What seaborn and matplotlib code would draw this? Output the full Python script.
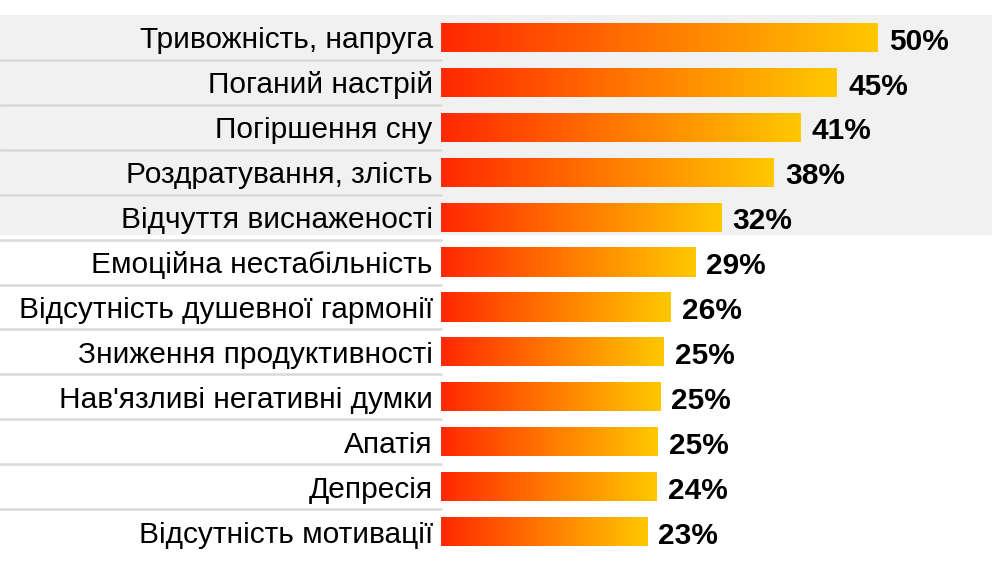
import numpy as np
import pandas as pd
import matplotlib
matplotlib.use("Agg")
import matplotlib.pyplot as plt
import matplotlib.transforms as mtransforms
from matplotlib.colors import LinearSegmentedColormap
from matplotlib.patches import Rectangle
import seaborn as sns

symptoms = [
    "Тривожність, напруга",
    "Поганий настрій",
    "Погіршення сну",
    "Роздратування, злість",
    "Відчуття виснаженості",
    "Емоційна нестабільність",
    "Відсутність душевної гармонії",
    "Зниження продуктивності",
    "Нав'язливі негативні думки",
    "Апатія",
    "Депресія",
    "Відсутність мотивації",
]
# bar lengths (percent)
shares = [50.0, 45.3, 41.1, 38.1, 32.1, 29.1, 26.3, 25.5, 25.1, 24.8, 24.7, 23.6]
share_labels = ["50%", "45%", "41%", "38%", "32%", "29%", "26%", "25%", "25%", "25%", "24%", "23%"]

df = pd.DataFrame({"symptom": symptoms, "share": shares})

sns.set_theme(style="white")
plt.rcParams["font.family"] = ["Liberation Sans", "DejaVu Sans"]

fig = plt.figure(figsize=(9.92, 5.61), dpi=100)
ax = fig.add_axes([441 / 992, 7 / 561, 551 / 992, 539 / 561])
ax.patch.set_visible(False)

sns.barplot(data=df, x="share", y="symptom", orient="h", width=0.65,
            color="#ff8000", ax=ax)

# red -> yellow gradient inside every bar
grad_cmap = LinearSegmentedColormap.from_list("heat", ["#ff2800", "#ff7a00", "#ffc800"])
gradient = np.linspace(0, 1, 256).reshape(1, -1)
for bar in ax.patches:
    x0, y0 = bar.get_x(), bar.get_y()
    w, h = bar.get_width(), bar.get_height()
    img = ax.imshow(gradient, cmap=grad_cmap, aspect="auto",
                    extent=[x0, x0 + w, y0 + h, y0], zorder=2)
    img.set_clip_path(bar)
    bar.set_facecolor("none")
    bar.set_edgecolor("none")

ax.set_xlim(0, 551 / 8.74)
ax.set_ylim(11.5, -0.5)

# grey band behind the top five rows, across the whole width
blend = mtransforms.blended_transform_factory(fig.transFigure, ax.transData)
ax.add_patch(Rectangle((0, -0.5), 1, 4.9, transform=blend, facecolor="#f1f1f1",
                       edgecolor="none", zorder=0, clip_on=False))

# thin separators under the category labels
for k in range(len(symptoms) - 1):
    ax.plot([0, 441 / 992], [k + 0.5, k + 0.5], transform=blend, color="#d9d9d9",
            lw=1.8, clip_on=False, zorder=1)

for i, (v, lab) in enumerate(zip(shares, share_labels)):
    ax.annotate(lab, xy=(v, i), xytext=(8, -3), textcoords="offset points",
                va="center", ha="left", fontsize=21.5, fontweight="bold", color="black")

ax.set_xticks([])
ax.set_xlabel("")
ax.set_ylabel("")
ax.tick_params(axis="y", length=0, pad=6, labelsize=21.5, labelcolor="black")
sns.despine(ax=ax, left=True, bottom=True)

fig.savefig("out.png", dpi=100)
